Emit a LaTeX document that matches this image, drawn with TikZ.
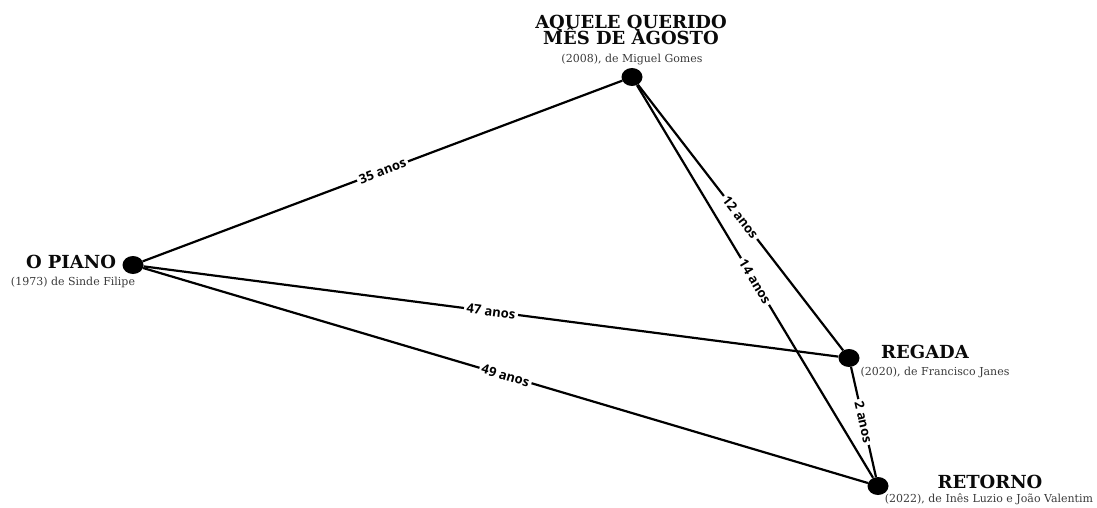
\documentclass[tikz,border=0pt]{standalone}
\usepackage{fontspec}
\setmainfont{DejaVu Serif}
\newfontfamily\labfont{Open Sans}
\usetikzlibrary{shapes.geometric}
\definecolor{subgray}{HTML}{3A3A3A}
\definecolor{titleblack}{HTML}{0A0A0A}
\tikzset{
  dot/.style={ellipse, fill=black, minimum width=21pt, minimum height=18pt, inner sep=0pt},
  conn/.style={line width=2.2pt, black},
  elabel/.style={fill=white, inner sep=2.5pt, font=\labfont\bfseries\fontsize{13}{14}\selectfont, sloped, midway},
  ttl/.style={font=\bfseries\fontsize{18}{18}\selectfont, text=titleblack, inner sep=0pt, anchor=base},
  sub/.style={font=\fontsize{11}{12}\selectfont, text=subgray, inner sep=0pt, anchor=base}
}
\begin{document}
\begin{tikzpicture}[x=1pt,y=-1pt]
\useasboundingbox (0,0) rectangle (1097,508);
% dots
\node[dot] (A) at (632,77) {};
\node[dot] (P) at (133,265) {};
\node[dot] (R) at (849,358) {};
\node[dot] (T) at (878,486) {};
% connectors
\draw[conn] (P) -- node[elabel] (l35) {35 anos} (A);
\draw[conn] (A) -- node[elabel] (l12) {12 anos} (R);
\draw[conn] (A) -- node[elabel] (l14) {14 anos} (T);
\draw[conn] (P) -- node[elabel] (l47) {47 anos} (R);
\draw[conn] (P) -- node[elabel] (l49) {49 anos} (T);
\draw[conn] (R) -- node[elabel] (l2) {2 anos} (T);
% titles
\node[ttl] (At1) at (631,29) {AQUELE QUERIDO};
\node[ttl] (At2) at (631,45) {MÊS DE AGOSTO};
\node[sub] (As) at (632,63) {(2008), de Miguel Gomes};
\node[ttl] (Pt) at (71,268) {O PIANO};
\node[sub] (Ps) at (73,285) {(1973) de Sinde Filipe};
\node[ttl] (Rt) at (925,358) {REGADA};
\node[sub] (Rs) at (935,375) {(2020), de Francisco Janes};
\node[ttl] (Tt) at (990,488) {RETORNO};
\node[sub] (Ts) at (989,502) {(2022), de Inês Luzio e João Valentim};
\end{tikzpicture}
\end{document}
